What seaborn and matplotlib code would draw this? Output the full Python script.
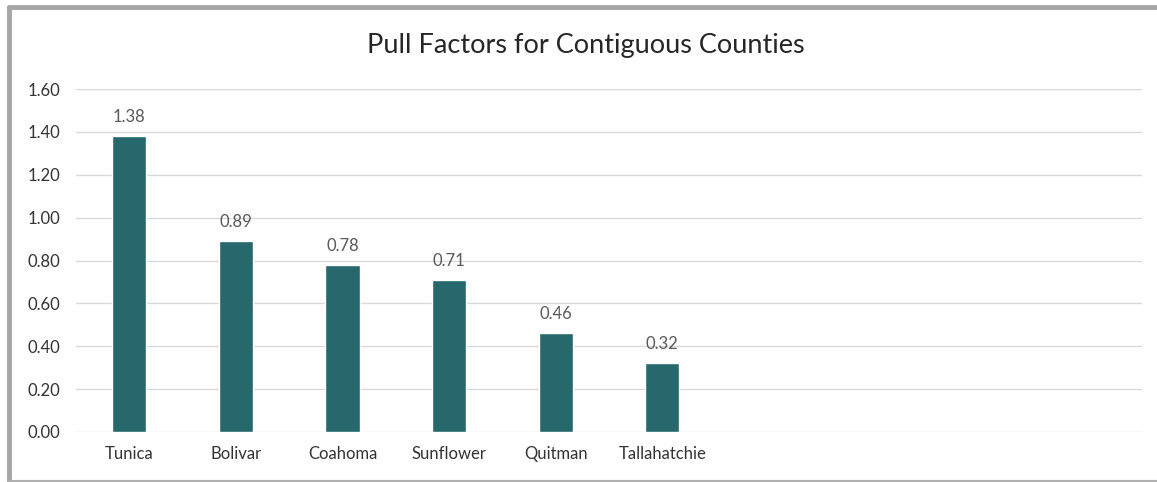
import matplotlib
matplotlib.use("Agg")
import matplotlib.pyplot as plt
import seaborn as sns
import pandas as pd
from matplotlib.lines import Line2D

counties = ["Tunica", "Bolivar", "Coahoma", "Sunflower", "Quitman", "Tallahatchie"]
pull_factors = [1.38, 0.89, 0.78, 0.71, 0.46, 0.32]
y_ticks = [0.0, 0.2, 0.4, 0.6, 0.8, 1.0, 1.2, 1.4, 1.6]
title = "Pull Factors for Contiguous Counties"

sns.set_theme(style="white")
plt.rcParams['font.family'] = ['Lato', 'DejaVu Sans']

df = pd.DataFrame({"county": counties, "value": pull_factors})

W, H = 1157, 482
fig = plt.figure(figsize=(W / 100, H / 100), dpi=100)
fig.patch.set_facecolor("white")
ax = fig.add_axes([76 / W, 1 - 432 / H, (1142 - 76) / W, (432 - 89) / H])

sns.barplot(data=df, x="county", y="value", color="#26686c", width=0.32,
            saturation=1, ax=ax, zorder=3)
ax.set_xlim(-0.5, 9.5)
ax.set_ylim(0, 1.6)
ax.set_yticks(y_ticks)
ax.set_yticklabels([f"{v:.2f}" for v in y_ticks])
ax.set_xlabel("")
ax.set_ylabel("")
for s in ax.spines.values():
    s.set_visible(False)
ax.grid(axis="y", color="#d9d9d9", linewidth=1, zorder=0)
ax.grid(axis="x", visible=False)
ax.tick_params(axis="both", length=0, labelsize=12, colors="#333333")
ax.tick_params(axis="x", pad=10)
ax.tick_params(axis="y", pad=11)

for c in ax.containers:
    ax.bar_label(c, fmt="%.2f", padding=8, fontsize=12, color="#595959")

fig.text(586 / W, 1 - 45 / H, title, ha="center", va="center", fontsize=19.5, color="#262626")

# outer frame
gray = "#a6a6a6"
fig.add_artist(Line2D([9 / W, 1.0], [1 - 7 / H, 1 - 7 / H], color=gray, linewidth=3.5))
fig.add_artist(Line2D([9 / W, 9 / W], [1 - 7 / H, 1 - 481 / H], color=gray, linewidth=3.5))
fig.add_artist(Line2D([9 / W, 1.0], [1 - 481 / H, 1 - 481 / H], color="#b0b0b0", linewidth=1.5))

fig.savefig("out.png", dpi=100, facecolor="white")
